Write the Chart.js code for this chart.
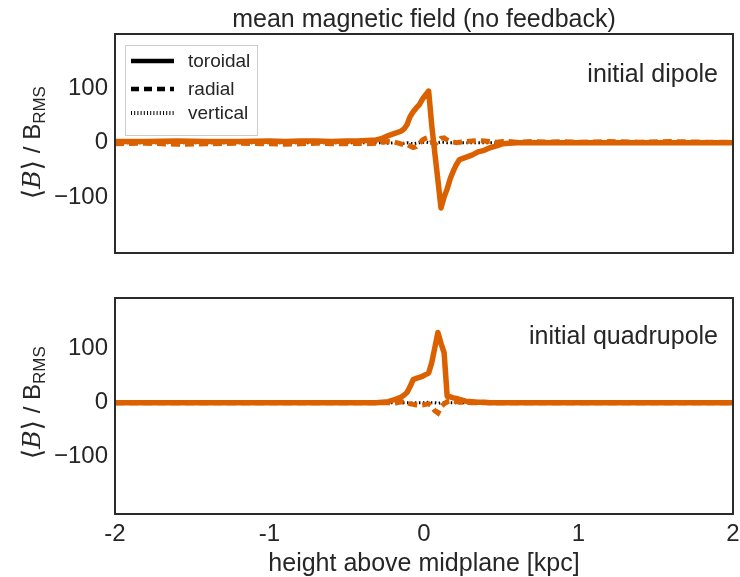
<!DOCTYPE html>
<html>
<head>
<meta charset="utf-8">
<script src="https://cdn.jsdelivr.net/npm/chart.js@4.4.1/dist/chart.umd.min.js"></script>
<style>
  html, body { margin: 0; padding: 0; background: #ffffff; }
  #wrap { position: relative; width: 740px; height: 577px; }
  canvas { position: absolute; left: 0; }
  #cTop { top: 0; }
  #cBot { top: 275px; }
</style>
</head>
<body>
<div id="wrap">
  <canvas id="cTop" width="740" height="275"></canvas>
  <canvas id="cBot" width="740" height="302"></canvas>
</div>
<script>
// Height above the midplane [kpc] at which the mean field profiles are sampled
const heights = [
  -2.0, -1.8, -1.6, -1.4, -1.2, -1.0, -0.9, -0.8, -0.7, -0.6,
  -0.5, -0.43, -0.37, -0.31, -0.27, -0.23, -0.19, -0.15, -0.13, -0.11,
  -0.09, -0.07, -0.05, -0.03, -0.01, 0.01, 0.03, 0.05, 0.07, 0.09,
  0.11, 0.13, 0.15, 0.17, 0.19, 0.21, 0.23, 0.27, 0.31, 0.35,
  0.39, 0.43, 0.47, 0.51, 0.55, 0.6, 0.7, 0.8, 0.9, 1.0,
  1.2, 1.4, 1.6, 1.8, 2.0
];

// Initial dipole run: <B>/B_RMS per component
const dipoleToroidal = [
  2, 2, 3, 2, 2, 3, 2, 3, 3, 2,
  3, 3, 4, 5, 8, 13, 17, 21, 25, 33,
  48, 57, 64, 70, 80, 88, 95, 32, -19, -69,
  -120, -100, -85, -66, -52, -40, -31, -27, -23, -17,
  -14, -9, -6, -2, -1, 0, 0, 0, 0, 0,
  0, 0, 0, 0, 0
];
const dipoleRadial = [
  -2, -1, -3, -2, -1, -2, -3, -2, -1, -2,
  -2, -1, -2, -1, 1, 2, 1, -2, -4, -3,
  -6, -9, -7, -2, 5, 8, 10, 4, -3, 2,
  8, 9, 5, 2, 1, 0, 1, 2, 3, 4,
  3, 2, 1, 2, 2, 1, 2, 1, 2, 1,
  2, 1, 2, 1, 1
];
const dipoleVertical = [
  0, 0, 0, 0, 0, 0, 0, 0, 0, 0,
  0, 0, 0, 0, 0, -1, 0, -1, -1, 0,
  -1, -2, -1, 0, 1, 1, 0, -1, -1, 0,
  1, 1, 0, 0, 0, 0, 0, 0, 0, 0,
  0, 0, 0, 0, 0, 0, 0, 0, 0, 0,
  0, 0, 0, 0, 0
];

// Initial quadrupole run
const quadToroidal = [
  0, 0, 0, 0, 0, 0, 0, 0, 0, 0,
  0, 0, 0, 0, 1, 2, 6, 10, 14, 19,
  30, 43, 45, 47, 49, 52, 55, 74, 102, 130,
  110, 93, 12, 11, 9, 8, 6, 3, 2, 1,
  1, 0, 0, 0, 0, 0, 0, 0, 0, 0,
  0, 0, 0, 0, 0
];
const quadRadial = [
  0, 0, 0, 0, 0, 0, 0, 0, 0, 0,
  0, 0, 0, 0, 0, 0, -1, 2, 1, 1,
  -2, -3, -4, -5, -4, -3, -2, -6, -15, -19,
  -8, -2, 2, 3, 4, 2, 1, 1, 0, 0,
  0, 0, 0, 0, 0, 0, 0, 0, 0, 0,
  0, 0, 0, 0, 0
];
const quadVertical = [
  0, 0, 0, 0, 0, 0, 0, 0, 0, 0,
  0, 0, 0, 0, 0, 0, 0, 0, 0, 0,
  0, -1, 0, 0, 0, 0, 1, 0, 0, -1,
  0, 0, 0, 0, 0, 0, 0, 0, 0, 0,
  0, 0, 0, 0, 0, 0, 0, 0, 0, 0,
  0, 0, 0, 0, 0
];

const yTickValues = [-100, 0, 100];
const legendLabels = ['toroidal', 'radial', 'vertical'];
const panelLabels = ['initial dipole', 'initial quadrupole'];
const chartTitle = 'mean magnetic field (no feedback)';
const xAxisTitle = 'height above midplane [kpc]';

const ORANGE = '#db6000';
const INK = '#262626';
const FRAME = '#2b2b2b';
const SANS = "'Liberation Sans', Arial, sans-serif";

function pairs(values) {
  return heights.map((z, i) => ({ x: z, y: values[i] }));
}

function buildDatasets(tor, rad, ver) {
  return [
    { label: legendLabels[0], data: pairs(tor), borderColor: ORANGE, borderWidth: 5.5,
      pointRadius: 0, borderJoinStyle: 'round', borderCapStyle: 'round' },
    { label: legendLabels[1], data: pairs(rad), borderColor: ORANGE, borderWidth: 5,
      borderDash: [9, 5], pointRadius: 0 },
    { label: legendLabels[2], data: pairs(ver), borderColor: '#000000', borderWidth: 3,
      borderDash: [1.5, 2.5], pointRadius: 0 }
  ];
}

// y-axis title  <B> / B_RMS, drawn rotated with a math-italic B and subscript
function drawYTitle(ctx, baseX, centerY) {
  const parts = [
    { t: '\u27E8', font: "27px 'DejaVu Sans', sans-serif", dy: 1 },
    { t: 'B', font: "italic 25px 'DejaVu Serif', serif", dy: 0 },
    { t: '\u27E9', font: "27px 'DejaVu Sans', sans-serif", dy: 1 },
    { t: ' / B', font: '24px ' + SANS, dy: 0 },
    { t: 'RMS', font: '17px ' + SANS, dy: 5 }
  ];
  let total = 0;
  parts.forEach(p => { ctx.font = p.font; p.w = ctx.measureText(p.t).width; total += p.w; });
  ctx.save();
  ctx.translate(baseX, centerY);
  ctx.rotate(-Math.PI / 2);
  ctx.fillStyle = INK;
  ctx.textAlign = 'left';
  ctx.textBaseline = 'alphabetic';
  let x = -total / 2;
  parts.forEach(p => { ctx.font = p.font; ctx.fillText(p.t, x, p.dy); x += p.w; });
  ctx.restore();
}

function drawLegend(ctx, x0, y0) {
  ctx.save();
  ctx.fillStyle = 'rgba(255,255,255,0.85)';
  ctx.fillRect(x0, y0, 132, 90);
  ctx.strokeStyle = '#cccccc';
  ctx.lineWidth = 1;
  ctx.strokeRect(x0 + 0.5, y0 + 0.5, 132, 90);
  const rows = [16, 44, 68];
  const styles = [
    { w: 4.5, dash: [] },
    { w: 4.5, dash: [8, 5] },
    { w: 4, dash: [1, 2.2] }
  ];
  ctx.strokeStyle = '#000000';
  ctx.lineCap = 'butt';
  rows.forEach((dy, i) => {
    ctx.setLineDash(styles[i].dash);
    ctx.lineWidth = styles[i].w;
    ctx.beginPath();
    ctx.moveTo(x0 + 6, y0 + dy);
    ctx.lineTo(x0 + 49, y0 + dy);
    ctx.stroke();
  });
  ctx.setLineDash([]);
  ctx.fillStyle = INK;
  ctx.font = '19px ' + SANS;
  ctx.textAlign = 'left';
  ctx.textBaseline = 'middle';
  rows.forEach((dy, i) => ctx.fillText(legendLabels[i], x0 + 63, y0 + dy + 1));
  ctx.restore();
}

const decor = {
  id: 'decor',
  afterDraw(chart, args, opts) {
    const { ctx, chartArea: a } = chart;
    ctx.save();
    ctx.strokeStyle = FRAME;
    ctx.lineWidth = 2;
    ctx.strokeRect(a.left, a.top, a.right - a.left, a.bottom - a.top);

    ctx.fillStyle = INK;
    ctx.font = '25px ' + SANS;
    ctx.textAlign = 'right';
    ctx.textBaseline = 'middle';
    ctx.fillText(opts.label, a.right - 15, a.top + opts.labelDy);

    drawYTitle(ctx, 40, chart.scales.y.getPixelForValue(0));

    if (opts.title) {
      ctx.fillStyle = INK;
      ctx.font = '25px ' + SANS;
      ctx.textAlign = 'center';
      ctx.textBaseline = 'middle';
      ctx.fillText(chartTitle, (a.left + a.right) / 2, 20);
    }
    if (opts.legend) drawLegend(ctx, a.left + 10, a.top + 11);
    ctx.restore();
  }
};

function yScale(min, max) {
  return {
    type: 'linear', min: min, max: max,
    grid: { display: false, drawTicks: false },
    border: { display: false },
    afterBuildTicks: s => { s.ticks = yTickValues.map(v => ({ value: v })); },
    afterFit: s => { s.width = 115; },
    ticks: {
      padding: 7, color: INK, font: { family: SANS, size: 24 },
      callback: v => (v < 0 ? '\u2212' + Math.abs(v) : String(v))
    }
  };
}

Chart.defaults.font.family = SANS;

new Chart(document.getElementById('cTop'), {
  type: 'line',
  data: { datasets: buildDatasets(dipoleToroidal, dipoleRadial, dipoleVertical) },
  plugins: [decor],
  options: {
    responsive: false, animation: false, devicePixelRatio: 1,
    layout: { padding: { top: 34, right: 7, bottom: 22, left: 0 } },
    scales: {
      x: { type: 'linear', min: -2, max: 2, display: false },
      y: yScale(-203, 200)
    },
    plugins: {
      legend: { display: false }, tooltip: { enabled: false },
      decor: { label: panelLabels[0], labelDy: 41, legend: true, title: true }
    }
  }
});

new Chart(document.getElementById('cBot'), {
  type: 'line',
  data: { datasets: buildDatasets(quadToroidal, quadRadial, quadVertical) },
  plugins: [decor],
  options: {
    responsive: false, animation: false, devicePixelRatio: 1,
    layout: { padding: { top: 23, right: 7, bottom: 0, left: 0 } },
    scales: {
      x: {
        type: 'linear', min: -2, max: 2,
        grid: { display: false, drawTicks: false },
        border: { display: false },
        afterFit: s => { s.height = 63; s.paddingLeft = 0; s.paddingRight = 0; },
        ticks: { stepSize: 1, padding: 6, color: INK, font: { family: SANS, size: 24 },
                 maxRotation: 0, callback: v => String(v) },
        title: { display: true, text: xAxisTitle, color: INK,
                 font: { family: SANS, size: 25, lineHeight: 1.0 }, padding: { top: 0, bottom: 0 } }
      },
      y: yScale(-206, 194)
    },
    plugins: {
      legend: { display: false }, tooltip: { enabled: false },
      decor: { label: panelLabels[1], labelDy: 39, legend: false, title: false }
    }
  }
});
</script>
</body>
</html>
